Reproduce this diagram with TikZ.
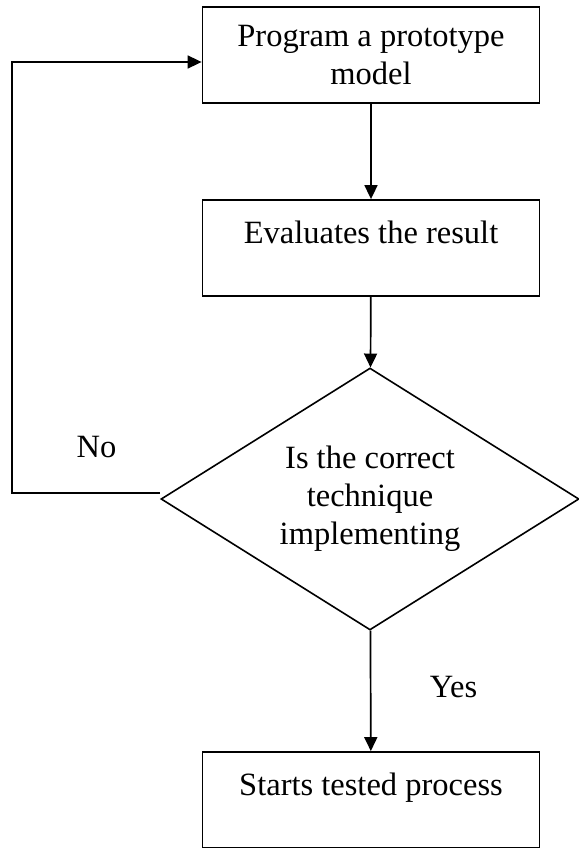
\documentclass[tikz,border=0pt]{standalone}
\usepackage{fontspec}
\setmainfont{Liberation Serif}
\usetikzlibrary{shapes.geometric,arrows.meta}

\tikzset{
  stepbox/.style={draw, line width=1.8pt, minimum width=337pt, minimum height=96pt,
    align=center, inner sep=0pt},
  choice/.style={draw, diamond, line width=1.6pt, shape aspect=1.6,
    minimum width=418pt, minimum height=262pt, align=center, inner sep=0pt},
}

\begin{document}
\begin{tikzpicture}[x=1pt, y=1pt, line width=1.7pt,
    font=\fontsize{32.5}{38}\selectfont,
    >={Triangle[length=14pt,width=13pt]}]
  \useasboundingbox (0,0) rectangle (578,-848);

  \node[stepbox] (prog) at (371, -55)  {Program a prototype\\model};
  \node[stepbox] (eval) at (371, -248) {Evaluates the result\\[-6pt]\mbox{}};
  \node[choice]  (dec)  at (370, -499) {Is the correct\\technique\\implementing};
  \node[stepbox] (test) at (371, -800) {Starts tested process\\[-6pt]\mbox{}};
  \coordinate (back) at (12, -493);

  \draw[->] (prog) to (eval);
  \draw[->] (eval) to (dec);
  \draw[->] (dec)  to node[pos=0.47, xshift=83pt] {Yes} (test);
  \draw[->] ([yshift=6pt]dec.west) -- node[pos=0.43, yshift=46pt] {No} (back)
            |- ([yshift=-7pt]prog.west);
\end{tikzpicture}
\end{document}
